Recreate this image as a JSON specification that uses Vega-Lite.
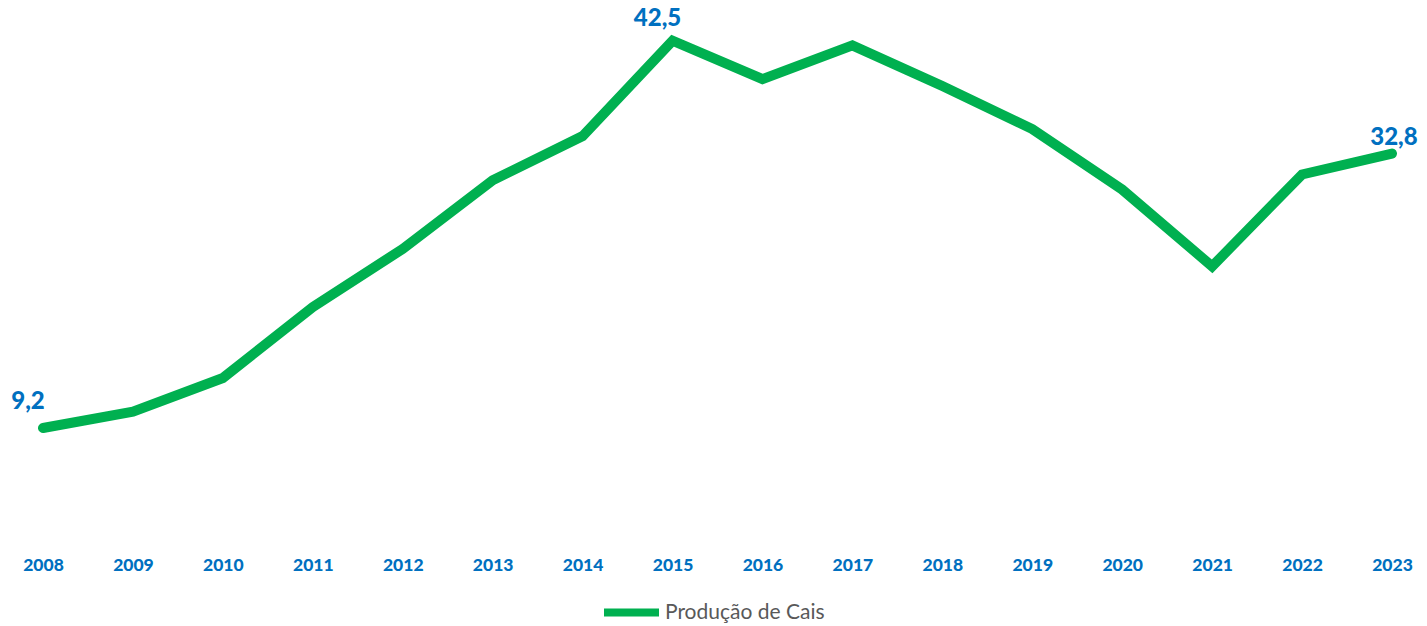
{
  "$schema": "https://vega.github.io/schema/vega-lite/v6.json",
  "autosize": {"type": "none"},
  "width": 1349,
  "height": 535,
  "padding": {"left": 43, "top": 0, "right": 35, "bottom": 91},
  "background": "white",
  "config": {
    "view": {"stroke": null},
    "font": "Lato",
    "locale": {"number": {"decimal": ",", "thousands": ".", "grouping": [3], "currency": ["", ""]}}
  },
  "data": {"values": [
    {"year": "2008", "value": 9.2, "series": "Produção de Cais"},
    {"year": "2009", "value": 10.6, "series": "Produção de Cais"},
    {"year": "2010", "value": 13.5, "series": "Produção de Cais"},
    {"year": "2011", "value": 19.6, "series": "Produção de Cais"},
    {"year": "2012", "value": 24.6, "series": "Produção de Cais"},
    {"year": "2013", "value": 30.5, "series": "Produção de Cais"},
    {"year": "2014", "value": 34.3, "series": "Produção de Cais"},
    {"year": "2015", "value": 42.5, "series": "Produção de Cais"},
    {"year": "2016", "value": 39.2, "series": "Produção de Cais"},
    {"year": "2017", "value": 42.1, "series": "Produção de Cais"},
    {"year": "2018", "value": 38.6, "series": "Produção de Cais"},
    {"year": "2019", "value": 34.9, "series": "Produção de Cais"},
    {"year": "2020", "value": 29.7, "series": "Produção de Cais"},
    {"year": "2021", "value": 23.1, "series": "Produção de Cais"},
    {"year": "2022", "value": 31.0, "series": "Produção de Cais"},
    {"year": "2023", "value": 32.8, "series": "Produção de Cais"}
  ]},
  "encoding": {
    "x": {
      "field": "year", "type": "ordinal",
      "scale": {"type": "point", "padding": 0},
      "axis": {
        "title": null, "labelAngle": 0, "domain": false, "ticks": false,
        "labelPadding": 21, "labelFontSize": 17.5, "labelFontWeight": 900,
        "labelColor": "#0070C0", "labelFont": "Lato", "grid": false
      }
    },
    "y": {
      "field": "value", "type": "quantitative",
      "scale": {"domain": [0, 46], "nice": false, "zero": true},
      "axis": null
    }
  },
  "layer": [
    {
      "mark": {"type": "line", "strokeWidth": 10, "strokeCap": "round", "strokeJoin": "miter"},
      "encoding": {
        "color": {
          "field": "series", "type": "nominal",
          "scale": {"range": ["#00B050"]},
          "legend": {
            "title": null, "orient": "none", "legendX": 557, "legendY": 581,
            "symbolType": "stroke", "symbolSize": 3025, "symbolStrokeWidth": 8,
            "labelFontSize": 21, "labelColor": "#595959", "labelFont": "Lato",
            "labelOffset": 2, "padding": 0
          }
        }
      }
    },
    {
      "transform": [{"filter": "datum.year == '2008'"}],
      "mark": {"type": "text", "dx": -15, "dy": -26, "fontSize": 24, "fontWeight": 900, "color": "#0070C0", "font": "Lato"},
      "encoding": {"text": {"field": "value", "type": "quantitative", "format": ".1f"}}
    },
    {
      "transform": [{"filter": "datum.year == '2015'"}],
      "mark": {"type": "text", "dx": -15, "dy": -22, "fontSize": 24, "fontWeight": 900, "color": "#0070C0", "font": "Lato"},
      "encoding": {"text": {"field": "value", "type": "quantitative", "format": ".1f"}}
    },
    {
      "transform": [{"filter": "datum.year == '2023'"}],
      "mark": {"type": "text", "dx": 2, "dy": -16, "fontSize": 24, "fontWeight": 900, "color": "#0070C0", "font": "Lato"},
      "encoding": {"text": {"field": "value", "type": "quantitative", "format": ".1f"}}
    }
  ]
}
